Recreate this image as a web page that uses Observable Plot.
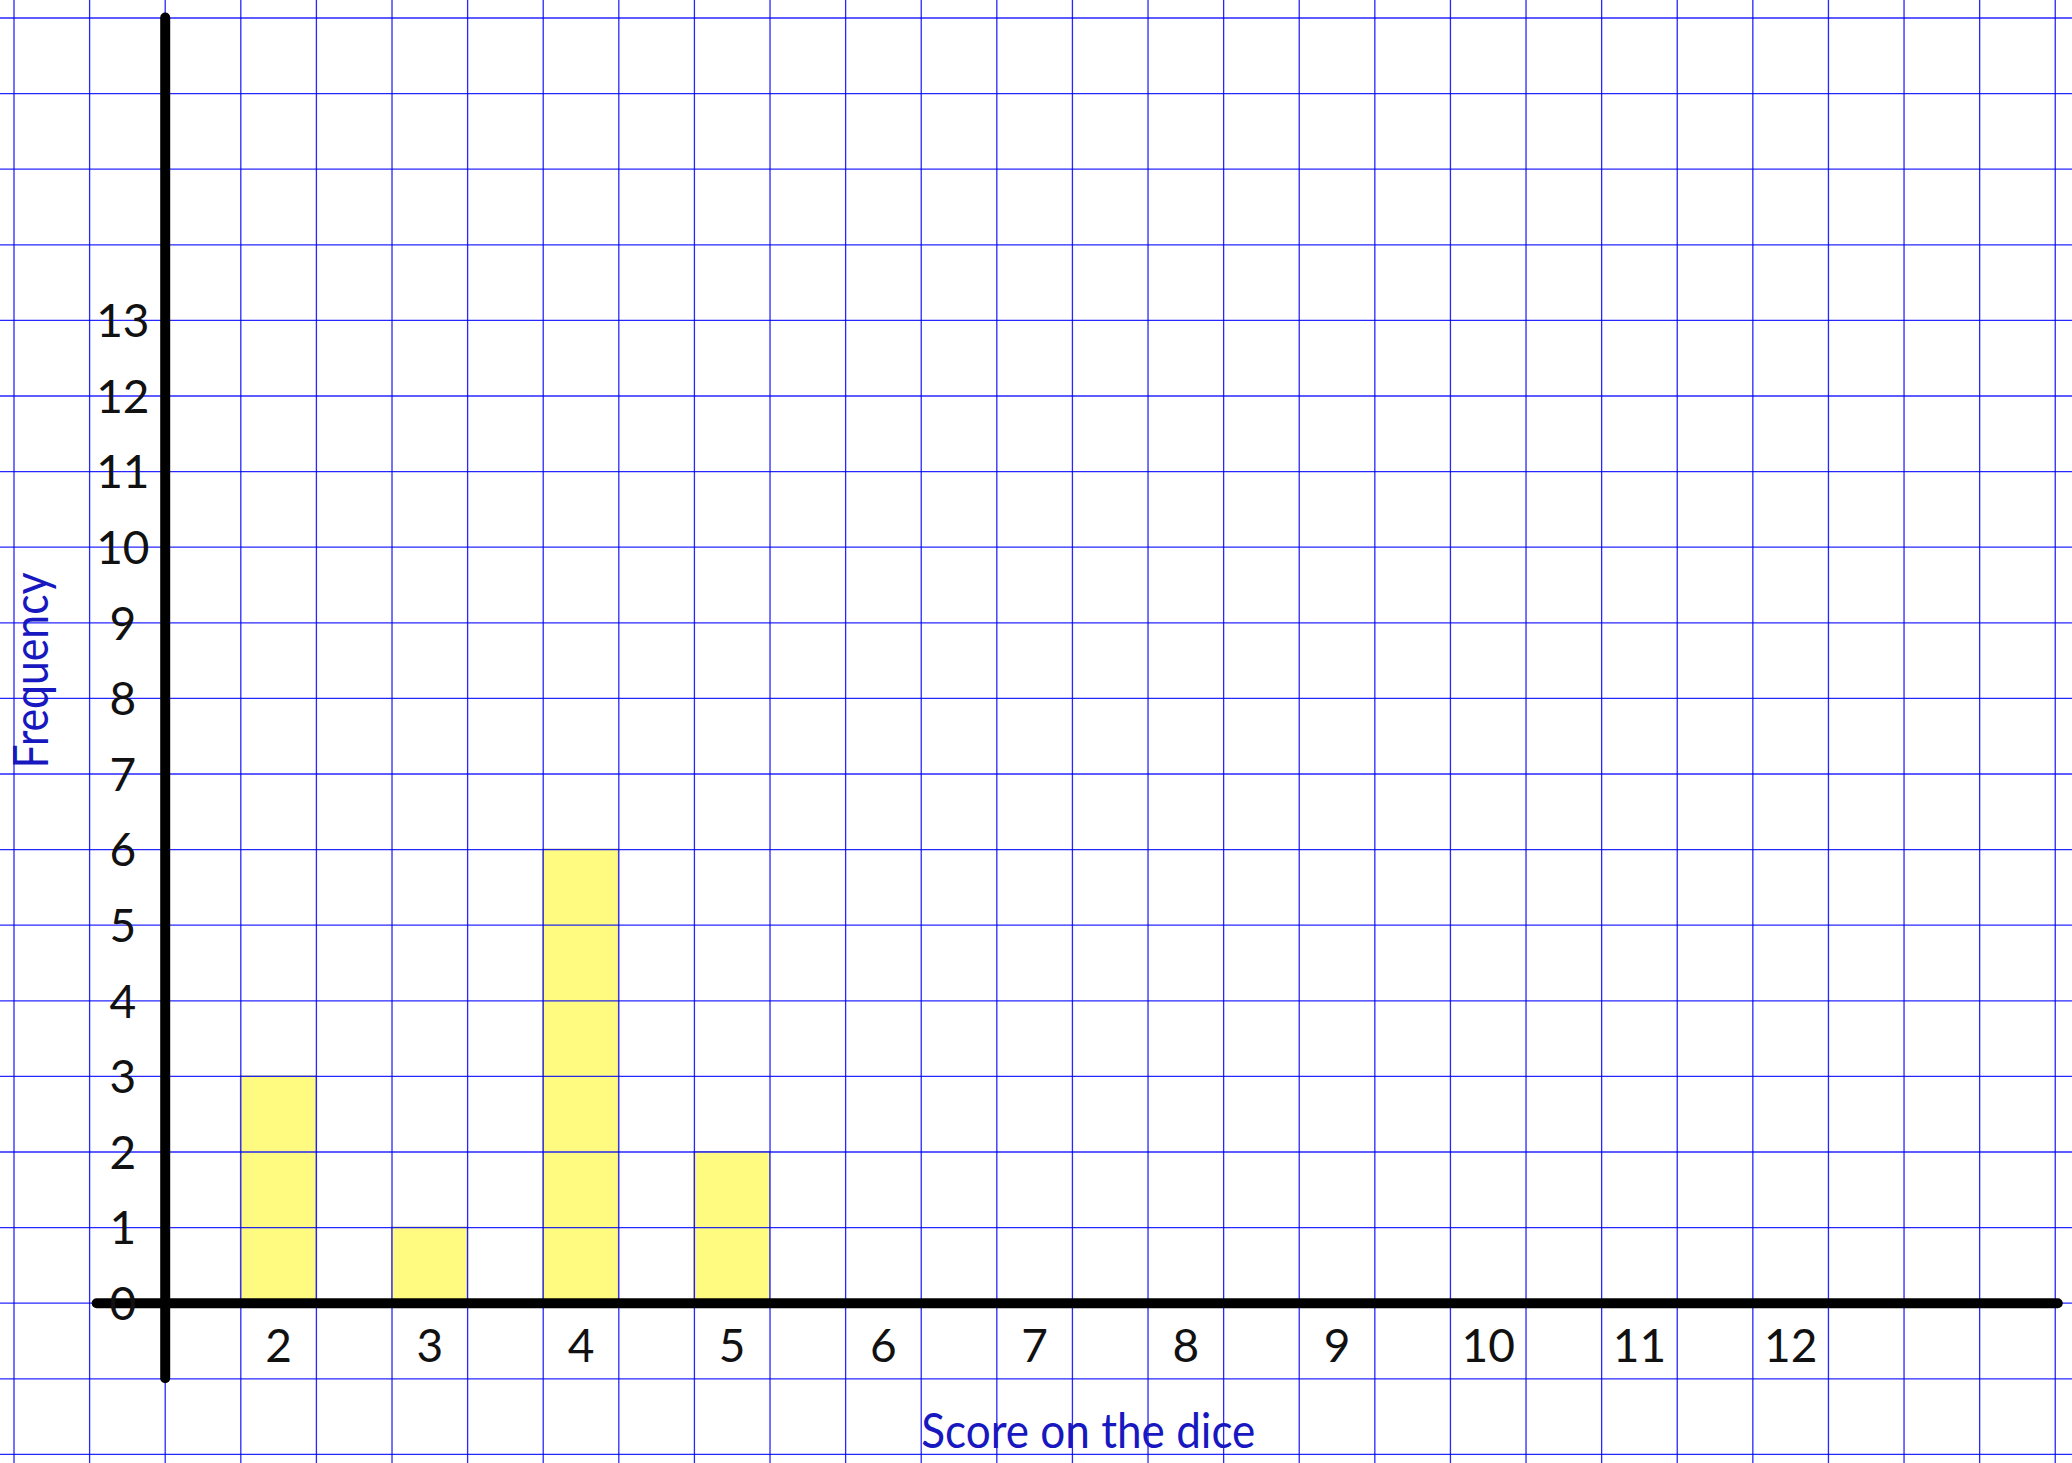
<!DOCTYPE html>
<html>
<head>
<meta charset="utf-8">
<script src="https://cdn.jsdelivr.net/npm/d3@7"></script>
<script src="https://cdn.jsdelivr.net/npm/@observablehq/plot@0.6"></script>
<style>
  html, body { margin: 0; padding: 0; background: #ffffff; }
  #chart svg { display: block; }
</style>
</head>
<body>
<div id="chart"></div>
<script>
// ---- data ----
const scores = [2, 3, 4, 5, 6, 7, 8, 9, 10, 11, 12];
const frequencies = [3, 1, 6, 2, 0, 0, 0, 0, 0, 0, 0];
const yTickLabels = [0, 1, 2, 3, 4, 5, 6, 7, 8, 9, 10, 11, 12, 13];
const xTitle = "Score on the dice";
const yTitle = "Frequency";

const bars = scores.map((s, i) => ({score: s, freq: frequencies[i]})).filter(d => d.freq > 0);

// graph-paper grid (two squares per score, one square per frequency unit)
const xGrid = d3.range(0, 28).map(k => 0.25 + 0.5 * k);
const yGrid = d3.range(-2, 18);

const font = "Lato, 'Open Sans', sans-serif";
const ink = "#1818c0";

const chart = Plot.plot({
  width: 2072,
  height: 1463,
  margin: 0,
  style: {background: "#ffffff", fontFamily: font},
  x: {type: "linear", domain: [0.16071, 13.8641], axis: null},
  y: {type: "linear", domain: [-2.1204, 17.2315], axis: null},
  marks: [
    Plot.rectY(bars, {x1: d => d.score - 0.25, x2: d => d.score + 0.25, y1: 0, y2: "freq", fill: "#fffa80", stroke: "#b8b890", strokeWidth: 1}),
    Plot.ruleX(xGrid, {stroke: "#0000ff", strokeWidth: 1.3, strokeOpacity: 0.85}),
    Plot.ruleY(yGrid, {stroke: "#0000ff", strokeWidth: 1.3, strokeOpacity: 0.85}),
    Plot.ruleX([1.25], {y1: -1, y2: 17, stroke: "#000", strokeWidth: 10, strokeLinecap: "round"}),
    Plot.ruleY([0], {x1: 0.8, x2: 13.77, stroke: "#000", strokeWidth: 10, strokeLinecap: "round"}),
    Plot.text(yTickLabels, {x: 0.97, y: d => d, text: d => String(d), fontSize: 46, fill: "#111", textAnchor: "middle", lineAnchor: "middle", dy: 2}),
    Plot.text(scores, {x: d => d, y: -0.586, text: d => String(d), fontSize: 46, fill: "#111", textAnchor: "middle", lineAnchor: "middle"}),
    Plot.text([xTitle], {x: 7.355, y: -1.71, text: d => d, fontSize: 48, fill: ink, textAnchor: "middle", lineAnchor: "middle"}),
    Plot.text([yTitle], {x: 0.37, y: 8.37, text: d => d, fontSize: 48, fill: ink, rotate: -90, textAnchor: "middle", lineAnchor: "middle"})
  ]
});

d3.select(chart).selectAll("text").each(function() {
  const t = this.textContent;
  if (t === xTitle) { d3.select(this).attr("textLength", 334).attr("lengthAdjust", "spacingAndGlyphs"); }
  if (t === yTitle) { d3.select(this).attr("textLength", 196).attr("lengthAdjust", "spacingAndGlyphs"); }
});

document.getElementById("chart").appendChild(chart);
</script>
</body>
</html>
